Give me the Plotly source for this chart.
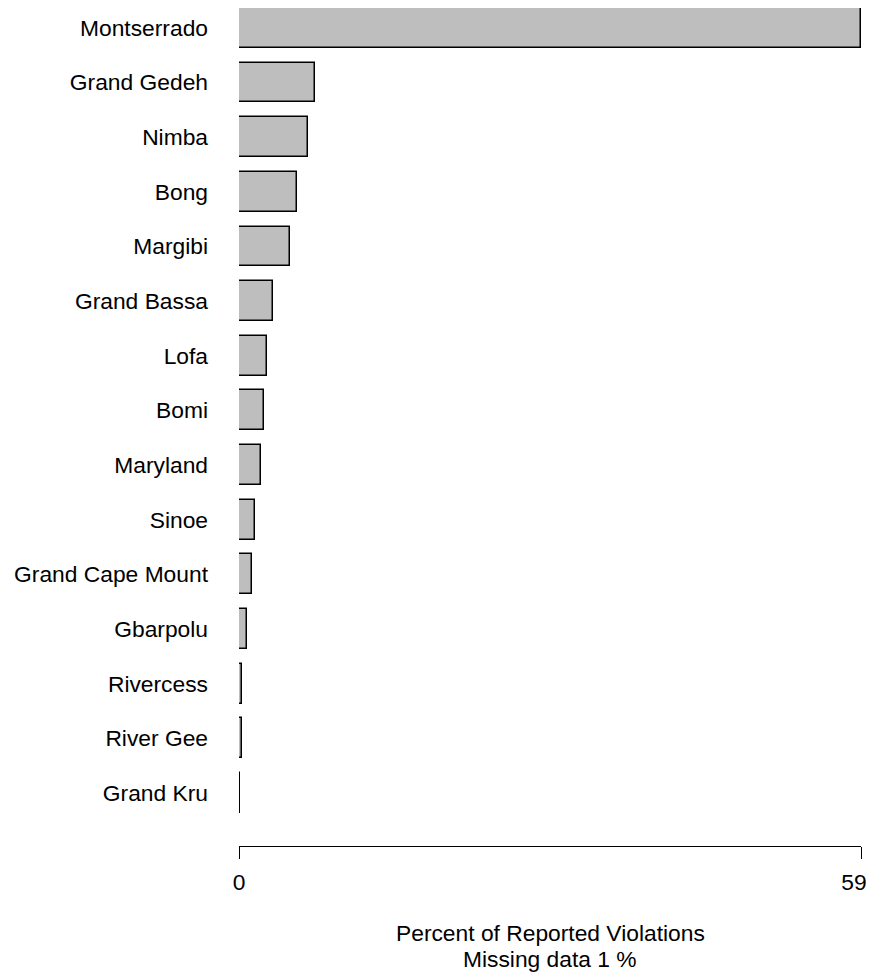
import plotly.graph_objects as go

counties = ["Montserrado", "Grand Gedeh", "Nimba", "Bong", "Margibi", "Grand Bassa",
            "Lofa", "Bomi", "Maryland", "Sinoe", "Grand Cape Mount", "Gbarpolu",
            "Rivercess", "River Gee", "Grand Kru"]
percent = [59, 7.2, 6.55, 5.52, 4.86, 3.24, 2.65, 2.36, 2.08, 1.47, 1.25, 0.75, 0.33, 0.28, 0.08]
tick_values = [0, 59]
tick_labels = ["0", "59"]
axis_title_lines = ["Percent of Reported Violations", "Missing data 1 %"]

FONT = "Liberation Sans, Arial, Helvetica, sans-serif"
FS = 22.8

fig = go.Figure()
fig.add_trace(go.Bar(
    x=percent,
    y=counties,
    orientation="h",
    width=0.73,
    marker=dict(color="#BEBEBE", line=dict(color="black", width=1.5)),
    hoverinfo="x+y",
))
# empty trace so the overlaid axis carrying the right-end tick exists
fig.add_trace(go.Scatter(x=[], y=[], xaxis="x2", yaxis="y",
                         showlegend=False, hoverinfo="skip"))

PLOT_H = 838
title_offsets_px = [87, 113]

fig.update_layout(
    template="none",
    width=868, height=965,
    margin=dict(l=231, r=15, t=0, b=127, pad=0, autoexpand=False),
    paper_bgcolor="white", plot_bgcolor="white",
    font=dict(family=FONT, size=FS, color="black"),
    showlegend=False,
    bargap=0,
    annotations=[
        dict(text=t, xref="paper", yref="paper", x=0.5, y=-off / PLOT_H,
             xanchor="center", yanchor="middle", showarrow=False,
             font=dict(family=FONT, size=FS, color="black"))
        for t, off in zip(axis_title_lines, title_offsets_px)
    ],
    xaxis=dict(
        automargin=False,
        range=[0, 59],
        tickvals=tick_values[:1], ticktext=tick_labels[:1],
        ticks="outside", ticklen=12, tickwidth=1, tickcolor="black",
        showline=True, linecolor="black", linewidth=1,
        showgrid=False, zeroline=False,
        tickfont=dict(size=FS), ticklabelstandoff=4,
    ),
    xaxis2=dict(
        overlaying="x", anchor="y", side="bottom",
        automargin=False,
        range=[0, 59],
        tickvals=tick_values[1:], ticktext=tick_labels[1:],
        ticks="outside", ticklen=12, tickwidth=1, tickcolor="black",
        showline=False, showgrid=False, zeroline=False,
        tickfont=dict(size=FS), ticklabelstandoff=4,
        ticklabelshift=-7, ticklabeloverflow="allow",
    ),
    yaxis=dict(
        automargin=False,
        type="category",
        range=[14.969, -0.363],
        showgrid=False, zeroline=False, showline=False,
        ticks="", ticklabelstandoff=30,
        tickfont=dict(size=FS),
    ),
)

fig.write_html("out.html")
